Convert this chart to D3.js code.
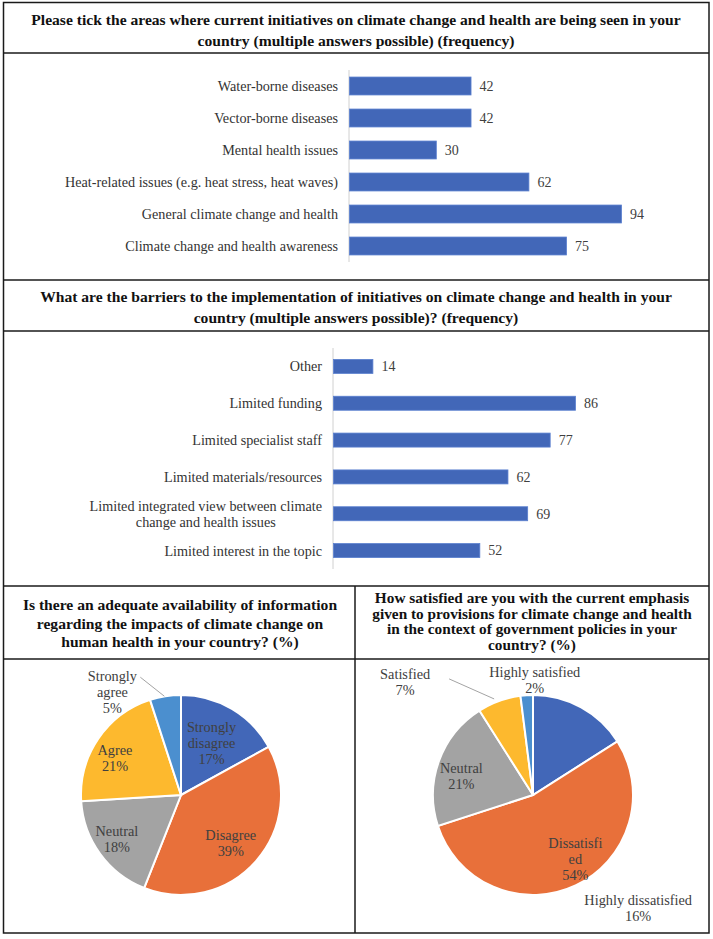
<!DOCTYPE html>
<html>
<head>
<meta charset="utf-8">
<script src="https://cdn.jsdelivr.net/npm/d3@7"></script>
<style>
  body { margin: 0; background: #fff; }
  text { font-family: "Liberation Serif", "DejaVu Serif", Times, serif; }
</style>
</head>
<body>
<div id="chart"></div>
<script>
// ---- data ----
const initiativeAreas = [
  "Water-borne diseases",
  "Vector-borne diseases",
  "Mental health issues",
  "Heat-related issues (e.g. heat stress, heat waves)",
  "General climate change and health",
  "Climate change and health awareness"
];
const initiativeCounts = [42, 42, 30, 62, 94, 75];

const barriers = [
  "Other",
  "Limited funding",
  "Limited specialist staff",
  "Limited materials/resources",
  "Limited integrated view between climate\nchange and health issues",
  "Limited interest in the topic"
];
const barrierCounts = [14, 86, 77, 62, 69, 52];

const infoLabels = ["Strongly\ndisagree", "Disagree", "Neutral", "Agree", "Strongly\nagree"];
const infoPct = [17, 39, 18, 21, 5];

const satLabels = ["Highly dissatisfied", "Dissatisfi\ned", "Neutral", "Satisfied", "Highly satisfied"];
const satPct = [16, 54, 21, 7, 2];

const titles = {
  bar1: ["Please tick the areas where current initiatives on climate change and health are being seen in your",
         "country (multiple answers possible) (frequency)"],
  bar2: ["What are the barriers to the implementation of initiatives on climate change and health in your",
         "country (multiple answers possible)? (frequency)"],
  pie1: ["Is there an adequate availability of information",
         "regarding the impacts of climate change on",
         "human health in your country? (%)"],
  pie2: ["How satisfied are you with the current emphasis",
         "given to provisions for climate change and health",
         "in the context of government policies in your",
         "country? (%)"]
};

const sliceColors = ["#4267b8", "#e8703a", "#a3a3a3", "#fdb92e", "#4b8fcf"];

// ---- layout ----
const FONT = "'Liberation Serif', 'DejaVu Serif', Times, serif";
const width = 713, height = 939;
const svg = d3.select("#chart").append("svg")
  .attr("width", width).attr("height", height)
  .attr("font-family", FONT);
svg.append("rect").attr("width", width).attr("height", height).attr("fill", "#fff");

// frame
const frame = svg.append("g").attr("stroke", "#1a1a1a").attr("stroke-width", 1.5).attr("fill", "none");
frame.append("rect").attr("x", 3.5).attr("y", 2.5).attr("width", 705.5).attr("height", 930.5);
[53, 280, 331, 586, 659].forEach(y => {
  frame.append("line").attr("x1", 3.5).attr("x2", 709).attr("y1", y).attr("y2", y);
});
frame.append("line").attr("x1", 355).attr("x2", 355).attr("y1", 586).attr("y2", 933);

function drawTitle(lines, cx, y0, lh, size) {
  const t = svg.append("text")
    .attr("font-family", FONT)
    .attr("text-anchor", "middle")
    .attr("font-weight", "bold")
    .attr("font-size", size)
    .attr("fill", "#111");
  lines.forEach((l, i) => {
    t.append("tspan").attr("x", cx).attr("y", y0 + i * lh).attr("dy", "0.35em").text(l);
  });
}

drawTitle(titles.bar1, 356, 20, 21, 15.6);
drawTitle(titles.bar2, 356, 297, 21, 15.6);
drawTitle(titles.pie1, 180, 605, 18.5, 15.6);
drawTitle(titles.pie2, 532, 598, 15.5, 15.3);

// ---- bar charts ----
function barChart(cats, vals, opt) {
  const g = svg.append("g");
  const x = d3.scaleLinear().domain([0, opt.max]).range([opt.x0, opt.x1]);
  const y = d3.scaleBand().domain(cats).range([opt.y0, opt.y1])
    .paddingInner(opt.pad).paddingOuter(opt.pad / 2);

  g.append("line")
    .attr("x1", opt.x0).attr("x2", opt.x0)
    .attr("y1", opt.y0).attr("y2", opt.y1)
    .attr("stroke", "#d0d0d0").attr("stroke-width", 1);

  g.selectAll("rect.bar").data(cats).enter().append("rect")
    .attr("class", "bar")
    .attr("x", opt.x0 + 0.5)
    .attr("y", d => y(d))
    .attr("width", (d, i) => x(vals[i]) - opt.x0)
    .attr("height", y.bandwidth())
    .attr("fill", "#4267b8")
    .attr("stroke", "#5a7fcf").attr("stroke-width", 0.8);

  g.selectAll("text.val").data(cats).enter().append("text")
    .attr("class", "val")
    .attr("font-family", FONT)
    .attr("x", (d, i) => x(vals[i]) + 9)
    .attr("y", d => y(d) + y.bandwidth() / 2)
    .attr("dy", "0.35em")
    .attr("font-size", 14)
    .attr("fill", "#404040")
    .text((d, i) => vals[i]);

  const labelRight = opt.x0 - 11;
  cats.forEach(c => {
    const lines = c.split("\n");
    const cy = y(c) + y.bandwidth() / 2;
    const t = g.append("text")
      .attr("font-family", FONT)
      .attr("font-size", 14.2)
      .attr("fill", "#333");
    lines.forEach((l, i) => {
      t.append("tspan")
        .attr("y", cy + (i - (lines.length - 1) / 2) * 16)
        .attr("dy", "0.35em").text(l);
    });
    if (lines.length === 1) {
      t.attr("text-anchor", "end").selectAll("tspan").attr("x", labelRight);
    } else {
      let w = 0;
      t.selectAll("tspan").each(function () { w = Math.max(w, this.getComputedTextLength()); });
      t.attr("text-anchor", "middle").selectAll("tspan").attr("x", labelRight - w / 2);
    }
  });
}

barChart(initiativeAreas, initiativeCounts, { max: 94, x0: 349, x1: 621, y0: 70, y1: 262, pad: 0.44 });
barChart(barriers, barrierCounts, { max: 86, x0: 333, x1: 575, y0: 348, y1: 569, pad: 0.62 });

// ---- pies ----
function pieChart(labels, vals, opt) {
  const R = 100;
  const g = svg.append("g").attr("transform", `translate(${opt.cx},${opt.cy})`);
  const arcs = d3.pie().sort(null).value(d => d)(vals);
  const arc = d3.arc().innerRadius(0).outerRadius(R);

  g.selectAll("path").data(arcs).enter().append("path")
    .attr("d", arc)
    .attr("fill", (d, i) => sliceColors[i])
    .attr("stroke", "#fff").attr("stroke-width", 2);

  arcs.forEach((a, i) => {
    const lay = opt.layout[i];
    const mid = (a.startAngle + a.endAngle) / 2;
    const px = Math.sin(mid) * R * lay.r, py = -Math.cos(mid) * R * lay.r;
    const lx = px + lay.dx, ly = py + lay.dy;
    if (lay.leader) {
      g.append("line")
        .attr("x1", px + lay.leader[0]).attr("y1", py + lay.leader[1])
        .attr("x2", px + lay.leader[2]).attr("y2", py + lay.leader[3])
        .attr("stroke", "#8c8c8c").attr("stroke-width", 0.8);
    }
    const lines = labels[i].split("\n").concat([vals[i] + "%"]);
    const t = g.append("text")
      .attr("font-family", FONT)
      .attr("text-anchor", "middle")
      .attr("font-size", 14.3)
      .attr("fill", "#404040");
    lines.forEach((l, k) => {
      t.append("tspan").attr("x", lx)
        .attr("y", ly + (k - (lines.length - 1) / 2) * 16)
        .attr("dy", "0.35em").text(l);
    });
  });
}

pieChart(infoLabels, infoPct, {
  cx: 181, cy: 795,
  layout: [
    { r: 0.6, dx: 0, dy: 0 },
    { r: 0.69, dx: -2, dy: 2 },
    { r: 0.78, dx: -1, dy: -2 },
    { r: 0.75, dx: -4, dy: 5 },
    { r: 1.0, dx: -53, dy: -4, leader: [-1, 0, -25, -19] }
  ]
});

pieChart(satLabels, satPct, {
  cx: 533, cy: 795,
  layout: [
    { r: 1.0, dx: 57, dy: 201 },
    { r: 0.76, dx: 10, dy: -5 },
    { r: 0.74, dx: -2, dy: 6 },
    { r: 1.0, dx: -94, dy: -19, leader: [-5, -2, -50, -22] },
    { r: 1.0, dx: 8, dy: -15 }
  ]
});
</script>
</body>
</html>
